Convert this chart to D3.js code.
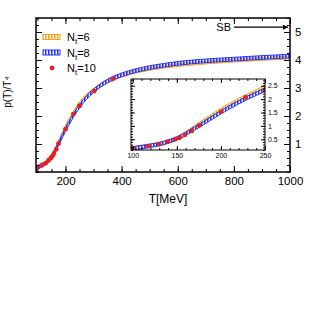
<!DOCTYPE html>
<html>
<head>
<meta charset="utf-8">
<script src="https://cdn.jsdelivr.net/npm/d3@7"></script>
<style>
  html, body { margin: 0; padding: 0; background: #fff; }
  svg { display: block; font-family: "Liberation Sans", Arial, sans-serif; }
</style>
</head>
<body>
<svg id="chart" width="327" height="327"></svg>
<script>
// Temperature grid for the continuum bands (MeV)
var temps = [95, 100, 110, 120, 130, 140, 150, 160, 170, 180, 190, 200, 210, 220, 230, 240, 250,
  275, 300, 350, 400, 450, 500, 550, 600, 700, 800, 900, 1000];

// Nt=6 band centre, p/T^4
var nt6 = [0.14, 0.16, 0.21, 0.27, 0.33, 0.42, 0.55, 0.74, 0.96, 1.18, 1.40, 1.61, 1.80, 1.98, 2.15, 2.30, 2.46,
  2.73, 2.93, 3.24, 3.44, 3.58, 3.68, 3.76, 3.82, 3.91, 3.98, 4.04, 4.09];

// Nt=8 band centre, p/T^4
var nt8 = [0.14, 0.16, 0.21, 0.26, 0.32, 0.41, 0.53, 0.70, 0.90, 1.10, 1.31, 1.51, 1.70, 1.88, 2.05, 2.20, 2.35,
  2.66, 2.90, 3.25, 3.47, 3.62, 3.73, 3.81, 3.88, 3.97, 4.03, 4.09, 4.14];

// Band half widths
var nt6Err = 0.05;
var nt8Err = 0.065;

// Nt=10 points
var nt10T = [100, 117, 130, 140, 148, 153, 159, 167, 175, 200, 228, 250, 303, 368];
var nt10P = [0.175, 0.25, 0.32, 0.42, 0.50, 0.56, 0.66, 0.81, 1.01, 1.53, 2.07, 2.36, 2.89, 3.32];

// Stefan-Boltzmann limit
var sbLimit = 95 * Math.PI * Math.PI / 180;

// Tick values
var mainXTicks = [200, 400, 600, 800, 1000];
var mainYTicks = [1, 2, 3, 4, 5];
var insetXTicks = [100, 150, 200, 250];
var insetYTicks = [0.5, 1, 1.5, 2, 2.5];

var svg = d3.select('#chart');
var orange = '#f8a21e';
var blue = '#2233ff';
var red = '#ee1c1c';

// Hatch patterns
var defs = svg.append('defs');
function hatch(id, color) {
  var p = defs.append('pattern')
    .attr('id', id)
    .attr('patternUnits', 'userSpaceOnUse')
    .attr('width', 3).attr('height', 3);
  p.append('rect').attr('x', 0).attr('y', 0).attr('width', 1.5).attr('height', 3).attr('fill', color);
}
hatch('hatchOrange', orange);
hatch('hatchBlue', blue);

// Draw a panel: frame, ticks, bands, points
function panel(opts) {
  var x = d3.scaleLinear().domain(opts.xDomain).range(opts.xRange);
  var y = d3.scaleLinear().domain(opts.yDomain).range(opts.yRange);
  var g = svg.append('g');

  g.append('rect')
    .attr('x', opts.xRange[0]).attr('y', opts.yRange[1])
    .attr('width', opts.xRange[1] - opts.xRange[0])
    .attr('height', opts.yRange[0] - opts.yRange[1])
    .attr('fill', '#fff');

  var clipId = opts.id + '-clip';
  defs.append('clipPath').attr('id', clipId).append('rect')
    .attr('x', opts.xRange[0]).attr('y', opts.yRange[1])
    .attr('width', opts.xRange[1] - opts.xRange[0])
    .attr('height', opts.yRange[0] - opts.yRange[1]);

  var plot = g.append('g').attr('clip-path', 'url(#' + clipId + ')');

  // Bands
  function band(values, err, color, pat) {
    var area = d3.area()
      .x(function(d, i) { return x(temps[i]); })
      .y0(function(d) { return y(d - err); })
      .y1(function(d) { return y(d + err); })
      .curve(d3.curveMonotoneX);
    plot.append('path')
      .datum(values)
      .attr('d', area)
      .attr('fill', 'url(#' + pat + ')')
      .attr('stroke', color)
      .attr('stroke-width', 1);
  }
  band(nt6, nt6Err, orange, 'hatchOrange');
  band(nt8, nt8Err, blue, 'hatchBlue');

  // Points
  plot.selectAll('circle.pt')
    .data(nt10T)
    .enter().append('circle')
    .attr('class', 'pt')
    .attr('cx', function(d) { return x(d); })
    .attr('cy', function(d, i) { return y(nt10P[i]); })
    .attr('r', opts.r)
    .attr('fill', red);

  // Axes
  var x0 = opts.xRange[0], x1 = opts.xRange[1], y0 = opts.yRange[0], y1 = opts.yRange[1];
  var xMinor = d3.range(Math.ceil(opts.xDomain[0] / opts.xMinor) * opts.xMinor, opts.xDomain[1] + 0.001, opts.xMinor);
  var yMinor = d3.range(Math.ceil(opts.yDomain[0] / opts.yMinor - 1e-6) * opts.yMinor, opts.yDomain[1] + 0.001, opts.yMinor);

  function addAxis(axis, tx, ty) {
    var a = g.append('g').attr('transform', 'translate(' + tx + ',' + ty + ')').call(axis);
    a.select('.domain').remove();
    a.selectAll('line').attr('stroke', '#000').attr('stroke-width', 1);
    a.selectAll('text').attr('font-size', opts.fontSize).attr('fill', '#000')
      .attr('font-family', '"Liberation Sans", Arial, sans-serif');
    return a;
  }

  // bottom
  addAxis(d3.axisBottom(x).tickValues(xMinor).tickSize(-opts.minorLen).tickFormat(''), 0, y0);
  addAxis(d3.axisBottom(x).tickValues(opts.xTicks).tickSize(-opts.majorLen).tickPadding(opts.xPad).tickFormat(d3.format('d')), 0, y0);
  // top
  addAxis(d3.axisTop(x).tickValues(xMinor).tickSize(-opts.minorLen).tickFormat(''), 0, y1);
  addAxis(d3.axisTop(x).tickValues(opts.xTicks).tickSize(-opts.majorLen).tickFormat(''), 0, y1);
  // left
  addAxis(d3.axisLeft(y).tickValues(yMinor).tickSize(-opts.minorLen).tickFormat(''), x0, 0);
  addAxis(d3.axisLeft(y).tickValues(opts.yTicks).tickSize(-opts.majorLen).tickFormat(''), x0, 0);
  // right
  addAxis(d3.axisRight(y).tickValues(yMinor).tickSize(-opts.minorLen).tickFormat(''), x1, 0);
  addAxis(d3.axisRight(y).tickValues(opts.yTicks).tickSize(-opts.majorLen).tickPadding(opts.yPad).tickFormat(d3.format('~g')), x1, 0)
    .selectAll('text').attr('text-anchor', 'start');

  // frame
  g.append('rect')
    .attr('x', x0).attr('y', y1)
    .attr('width', x1 - x0).attr('height', y0 - y1)
    .attr('fill', 'none').attr('stroke', '#000').attr('stroke-width', opts.frameWidth);

  return { x: x, y: y, g: g };
}

// Main panel
var main = panel({
  id: 'main',
  xDomain: [95, 1000], xRange: [36, 290],
  yDomain: [0, 5.5], yRange: [172, 18],
  xTicks: mainXTicks, yTicks: mainYTicks,
  xMinor: 50, yMinor: 0.25,
  majorLen: 6, minorLen: 3,
  fontSize: 11.5, xPad: 5, yPad: 5,
  frameWidth: 1.5, r: 2.4
});

// SB arrow
var sbY = main.y(sbLimit) + 1;
defs.append('marker')
  .attr('id', 'arrow')
  .attr('viewBox', '0 0 10 10')
  .attr('refX', 10).attr('refY', 5)
  .attr('markerWidth', 8).attr('markerHeight', 5)
  .attr('markerUnits', 'userSpaceOnUse')
  .attr('orient', 'auto')
  .append('path').attr('d', 'M0,0L10,5L0,10z').attr('fill', '#000');
svg.append('line')
  .attr('x1', 234).attr('x2', 288)
  .attr('y1', sbY).attr('y2', sbY)
  .attr('stroke', '#000').attr('stroke-width', 1.2)
  .attr('marker-end', 'url(#arrow)');
svg.append('text')
  .attr('x', 231).attr('y', sbY + 4)
  .attr('text-anchor', 'end')
  .attr('font-size', 11)
  .text('SB');

// Inset panel
panel({
  id: 'inset',
  xDomain: [98, 250], xRange: [131, 265],
  yDomain: [0.1, 2.75], yRange: [150, 79],
  xTicks: insetXTicks, yTicks: insetYTicks,
  xMinor: 10, yMinor: 0.1,
  majorLen: 4, minorLen: 2,
  fontSize: 7, xPad: 3, yPad: 3,
  frameWidth: 1, r: 2.3
});

// Legend
var legend = svg.append('g');
var legendItems = [
  { label: '6', color: orange, pat: 'hatchOrange', type: 'band' },
  { label: '8', color: blue, pat: 'hatchBlue', type: 'band' },
  { label: '10', color: red, type: 'point' }
];
legendItems.forEach(function(d, i) {
  var cy = 37 + i * 15.5;
  if (d.type === 'band') {
    legend.append('rect')
      .attr('x', 43).attr('y', cy - 2.5)
      .attr('width', 17).attr('height', 5)
      .attr('fill', 'url(#' + d.pat + ')')
      .attr('stroke', d.color).attr('stroke-width', 1);
  } else {
    legend.append('circle').attr('cx', 52).attr('cy', cy).attr('r', 2.4).attr('fill', red);
  }
  var t = legend.append('text').attr('x', 67).attr('y', cy + 4).attr('font-size', 11);
  t.append('tspan').text('N');
  t.append('tspan').attr('font-size', 8).attr('dy', 3).text('t');
  t.append('tspan').attr('dy', -3).text('=' + d.label);
});

// Axis titles
svg.append('text')
  .attr('transform', 'translate(11,92) rotate(-90)')
  .attr('text-anchor', 'middle')
  .attr('font-size', 10)
  .text('p(T)/T⁴');

svg.append('text')
  .attr('x', 168).attr('y', 203)
  .attr('text-anchor', 'middle')
  .attr('font-size', 12)
  .text('T[MeV]');
</script>
</body>
</html>
